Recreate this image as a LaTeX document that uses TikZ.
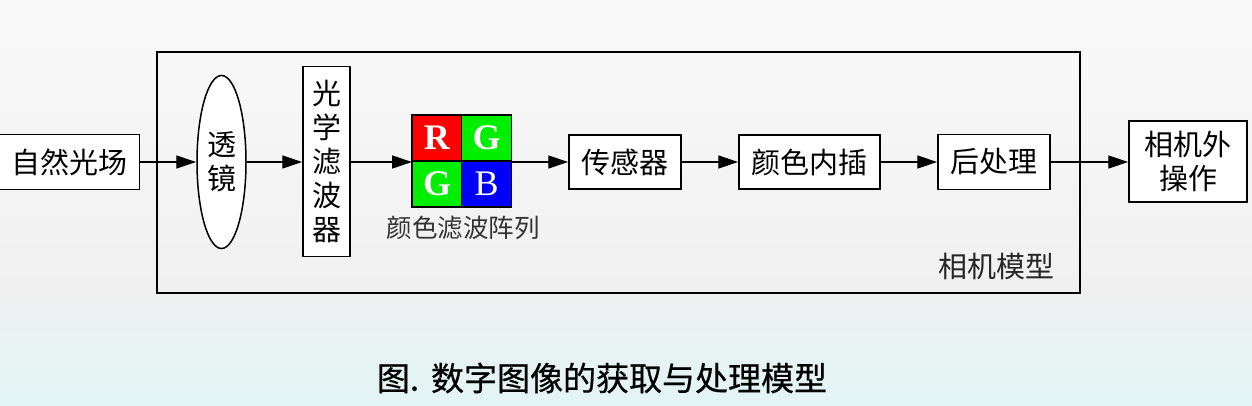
\documentclass[tikz,border=0pt]{standalone}
\usepackage{fontspec}
\setmainfont{Liberation Serif}
\newfontfamily\cjk{Noto Sans CJK SC}
\newfontfamily\cjkm{Noto Sans CJK SC}[FakeBold=0.6]
\usetikzlibrary{arrows.meta,shapes.geometric,positioning}
\definecolor{bgtop}{HTML}{F9F9F9}
\definecolor{bgmid}{HTML}{F0F0F0}
\definecolor{bgbot}{HTML}{E2F4F4}
\definecolor{rr}{HTML}{FF0000}
\definecolor{gg}{HTML}{00EE00}
\definecolor{bb}{HTML}{0000FF}
\tikzset{
  blk/.style={draw=black, line width=1.5pt, fill=white, inner sep=0pt, font=\cjk\fontsize{29}{34}\selectfont, align=center},
  conn/.style={line width=1.3pt, -{Triangle[length=20pt,width=13pt]}},
  cell/.style={draw=black, line width=1.2pt, minimum width=50pt, minimum height=46pt, inner sep=0pt, text=white, font=\fontsize{36}{36}\selectfont},
}
\begin{document}
\begin{tikzpicture}[x=1pt,y=-1pt]
\useasboundingbox (0,0) rectangle (1252,406);
\shade[top color=bgtop, bottom color=bgmid] (0,0) rectangle (1252,290);
\shade[top color=bgmid, bottom color=bgbot] (0,290) rectangle (1252,406);
% camera frame
\draw[line width=1.4pt] (157,52) rectangle (1080,293);
\node[font=\cjk\fontsize{29}{30}\selectfont, text=black!85, anchor=east] (camlbl) at (1058,266) {相机模型};
% nodes
\node[blk, minimum width=141pt, minimum height=55pt] (nat) at (69,162) {自然光场};
\node[blk, ellipse, minimum width=49pt, minimum height=173pt] (lens) at (221.5,162) {透\\镜};
\node[blk, minimum width=47pt, minimum height=190pt] (filt) at (326.5,161.5) {光\\学\\滤\\波\\器};
\node[cell, fill=rr] (c11) at (437,138) {\textbf{R}};
\node[cell, fill=gg] (c12) at (486.5,138) {\textbf{G}};
\node[cell, fill=gg] (c21) at (437,184) {\textbf{G}};
\node[cell, fill=bb] (c22) at (486.5,184) {B};
\coordinate (cfaw) at (412,162);
\coordinate (cfae) at (511.5,162);
\node[font=\cjk\fontsize{25.5}{28}\selectfont, text=black!80] (cfalbl) at (463,228) {颜色滤波阵列};
\node[blk, minimum width=112pt, minimum height=54pt] (sens) at (625,162) {传感器};
\node[blk, minimum width=141pt, minimum height=54pt] (interp) at (809.5,162) {颜色内插};
\node[blk, minimum width=112pt, minimum height=55pt] (post) at (994,162) {后处理};
\node[blk, minimum width=118pt, minimum height=81pt] (ext) at (1188,161.5) {相机外\\操作};
% connectors
\draw[conn] (nat.east) -- (lens.west);
\draw[conn] (lens.east) -- (lens.east -| filt.west);
\draw[conn] (filt.east |- cfaw) -- (cfaw);
\draw[conn] (cfae) -- (cfae -| sens.west);
\draw[conn] (sens.east) -- (interp.west);
\draw[conn] (interp.east) -- (post.west);
\draw[conn] (post.east) -- (post.east -| ext.west);
% caption
\node[font=\cjkm\fontsize{33}{35}\selectfont] (cap) at (602,378) {图.\hspace{12pt}数字图像的获取与处理模型};
\end{tikzpicture}
\end{document}
